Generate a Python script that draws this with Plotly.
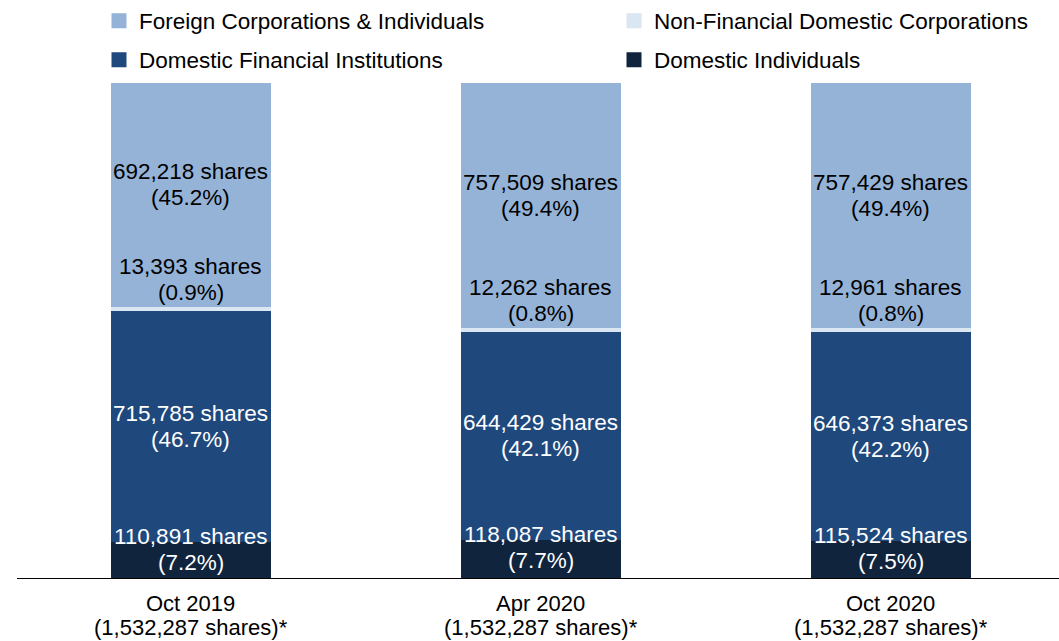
import plotly.graph_objects as go

# Shareholder composition by survey date
categories = ["Oct 2019", "Apr 2020", "Oct 2020"]
total_shares = [1532287, 1532287, 1532287]
domestic_individuals = [110891, 118087, 115524]
domestic_financial = [715785, 644429, 646373]
nonfinancial_corps = [13393, 12262, 12961]
foreign_holders = [692218, 757509, 757429]

series = [
    ("Domestic Individuals", domestic_individuals, "#10243E"),
    ("Domestic Financial Institutions", domestic_financial, "#1F497D"),
    ("Non-Financial Domestic Corporations", nonfinancial_corps, "#DAE6F1"),
    ("Foreign Corporations & Individuals", foreign_holders, "#95B3D7"),
]

FONT = "Arial, 'Liberation Sans', sans-serif"
FS = 22.5
LINE = 26  # px between the two lines of a label

x_pos = list(range(len(categories)))
fig = go.Figure()

for name, vals, color in series:
    fig.add_trace(go.Bar(
        x=x_pos, y=vals, name=name, width=0.457,
        marker=dict(color=color, line=dict(width=0)),
        showlegend=False, hoverinfo="skip",
    ))


def label(x, y, shares, total, color, shift):
    pct = shares / total * 100
    for text, dy in ((f"{shares:,} shares", shift + LINE / 2),
                     (f"({pct:.1f}%)", shift - LINE / 2)):
        fig.add_annotation(
            x=x, y=y, xref="x", yref="y", text=text, showarrow=False,
            yshift=dy, yanchor="middle",
            font=dict(family=FONT, size=FS, color=color),
        )


for i in x_pos:
    tot = total_shares[i]
    di = domestic_individuals[i]
    dfi = domestic_financial[i]
    nf = nonfinancial_corps[i]
    fo = foreign_holders[i]
    # bottom segment: second line sits on the segment centre
    label(i, di / 2, di, tot, "white", LINE / 2 - 2)
    # financial institutions: centred
    label(i, di + dfi / 2, dfi, tot, "white", 0)
    # thin corporate segment: label sits just above it
    label(i, di + dfi + nf, nf, tot, "black", 14 + LINE / 2)
    # foreign holders: slightly above the segment centre
    label(i, di + dfi + nf + fo / 2, fo, tot, "black", 10)

# two-line category labels under the axis
for i, (cat, tot) in enumerate(zip(categories, total_shares)):
    for text, dy in ((cat, -25), (f"({tot:,} shares)*", -49)):
        fig.add_annotation(
            x=i, y=0, xref="x", yref="paper", text=text, showarrow=False,
            yshift=dy, yanchor="middle", borderpad=0,
            font=dict(family=FONT, size=22, color="#000"),
        )

# legend entries with square swatches
legend_rows = [
    ("Foreign Corporations & Individuals", "#95B3D7", "legend"),
    ("Non-Financial Domestic Corporations", "#DAE6F1", "legend"),
    ("Domestic Financial Institutions", "#1F497D", "legend2"),
    ("Domestic Individuals", "#10243E", "legend2"),
]
for name, color, lg in legend_rows:
    fig.add_trace(go.Scatter(
        x=[None], y=[None], mode="markers", name=name, legend=lg,
        marker=dict(symbol="square", size=15, color=color),
    ))

legend_style = dict(
    orientation="h", xref="container", yref="container",
    x=99 / 1059, xanchor="left", yanchor="middle",
    entrywidth=470, entrywidthmode="pixels", traceorder="normal",
    font=dict(family=FONT, size=FS, color="#000"),
    bgcolor="rgba(0,0,0,0)", borderwidth=0,
)

fig.update_layout(
    width=1059, height=641,
    margin=dict(l=17, r=0, t=83, b=63, autoexpand=False),
    barmode="stack",
    plot_bgcolor="white", paper_bgcolor="white",
    font=dict(family=FONT, size=FS, color="#000"),
    legend=dict(legend_style, y=1 - 21 / 641),
    legend2=dict(legend_style, y=1 - 60 / 641),
    xaxis=dict(
        range=[-0.497, 2.48], showticklabels=False,
        showgrid=False, zeroline=False, showline=True, linecolor="#000",
        linewidth=1.3, ticks="", automargin=False,
    ),
    yaxis=dict(range=[0, total_shares[0]], visible=False, showgrid=False),
)

fig.write_html("out.html")
